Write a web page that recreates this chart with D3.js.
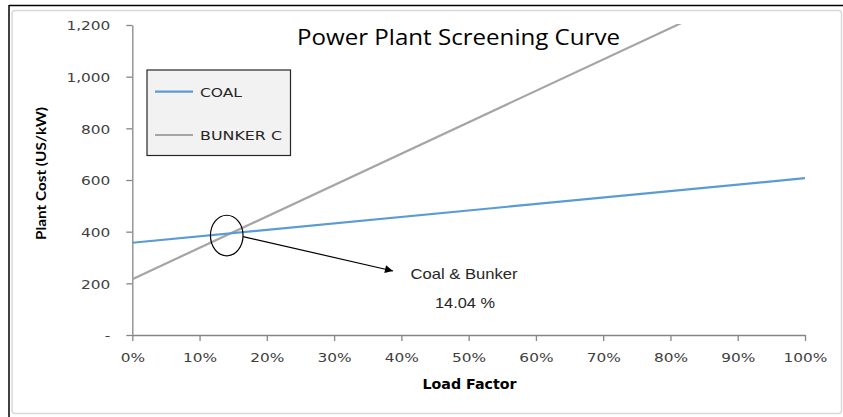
<!DOCTYPE html>
<html><head><meta charset="utf-8">
<script src="https://cdn.jsdelivr.net/npm/d3@7"></script>
<style>body{margin:0;background:#fff}svg{display:block}</style>
</head><body>
<svg id="c" width="843" height="417"></svg>
<script>
// Data
const loadFactor = [0, 1];
const coalCost = [357, 607];
const bunkerCost = [216, 1431];
const yTicks = [0, 200, 400, 600, 800, 1000, 1200];
const xTicks = [0, 0.1, 0.2, 0.3, 0.4, 0.5, 0.6, 0.7, 0.8, 0.9, 1.0];
const seriesNames = ["COAL", "BUNKER C"];
const chartTitle = "Power Plant Screening Curve";
const annotation = ["Coal & Bunker", "14.04 %"];
const crossover = {x: 0.1404, y: 385};

const svg = d3.select("#c");
const x = d3.scaleLinear().domain([0, 1]).range([132.3, 805]);
const y = d3.scaleLinear().domain([0, 1200]).range([335, 25]);

// frame
svg.append("rect").attr("x", 12).attr("y", 10.5).attr("width", 829.5).attr("height", 403).attr("rx", 3)
  .attr("fill", "none").attr("stroke", "#d9d9d9").attr("stroke-width", 1.5);
svg.append("line").attr("x1", 9).attr("x2", 843).attr("y1", 5.5).attr("y2", 5.5).attr("stroke", "#000").attr("stroke-width", 1.5);
svg.append("line").attr("x1", 9).attr("x2", 9).attr("y1", 5).attr("y2", 417).attr("stroke", "#000").attr("stroke-width", 1.5);

svg.append("defs").append("clipPath").attr("id", "plot").append("rect")
  .attr("x", 130).attr("y", 24).attr("width", 680).attr("height", 313);

// axes
const yAxis = svg.append("g").attr("transform", `translate(${x(0)},0)`)
  .call(d3.axisLeft(y).tickValues(yTicks).tickSize(6).tickSizeOuter(0).tickPadding(16)
    .tickFormat(d => d === 0 ? "-" : d3.format(",")(d)));
const xAxis = svg.append("g").attr("transform", `translate(0,${y(0)})`)
  .call(d3.axisBottom(x).tickValues(xTicks).tickSize(6).tickSizeOuter(0).tickFormat(d3.format(".0%")));
[yAxis, xAxis].forEach(g => {
  g.select(".domain").attr("stroke", "#868686").attr("stroke-width", 1.3);
  g.selectAll(".tick line").attr("stroke", "#868686").attr("stroke-width", 1.3);
  g.selectAll("text").attr("font-family", "DejaVu Sans").attr("font-size", 13)
    .attr("fill", "#404040");
  g.selectAll("text").each(function() {
    const w = this.getComputedTextLength();
    d3.select(this).attr("textLength", w * 1.18).attr("lengthAdjust", "spacingAndGlyphs");
  });
});
yAxis.selectAll("text").attr("dy", "0.36em");
xAxis.selectAll("text").attr("y", 18);

// lines
const line = d3.line().x(d => x(d[0])).y(d => y(d[1]));
const g = svg.append("g").attr("clip-path", "url(#plot)");
g.append("path").datum(loadFactor.map((v, i) => [v, bunkerCost[i]])).attr("d", line)
  .attr("fill", "none").attr("stroke", "#a5a5a5").attr("stroke-width", 2.2);
g.append("path").datum(loadFactor.map((v, i) => [v, coalCost[i]])).attr("d", line)
  .attr("fill", "none").attr("stroke", "#5b9bd5").attr("stroke-width", 2.2);

// title
svg.append("text").attr("x", 297).attr("y", 45).attr("font-family", "Open Sans").attr("font-size", 21)
  .attr("textLength", 323).attr("lengthAdjust", "spacingAndGlyphs").attr("fill", "#000").text(chartTitle);

// axis titles
svg.append("text").attr("transform", "translate(46,240) rotate(-90)").attr("font-family", "Lato")
  .attr("font-weight", "bold").attr("font-size", 14).attr("textLength", 133)
  .attr("lengthAdjust", "spacingAndGlyphs").attr("fill", "#000").text("Plant Cost (US/kW)");
svg.append("text").attr("x", 422.5).attr("y", 389).attr("font-family", "DejaVu Sans")
  .attr("font-weight", "bold").attr("font-size", 13.5).attr("textLength", 94)
  .attr("lengthAdjust", "spacingAndGlyphs").attr("fill", "#000").text("Load Factor");

// legend
svg.append("rect").attr("x", 147).attr("y", 70).attr("width", 143.5).attr("height", 85.5)
  .attr("fill", "#f2f2f2").attr("stroke", "#262626").attr("stroke-width", 1.2);
const legY = [91.7, 135];
const legColors = ["#5b9bd5", "#a5a5a5"];
const legW = [42, 82];
seriesNames.forEach((n, i) => {
  svg.append("line").attr("x1", 155).attr("x2", 193).attr("y1", legY[i]).attr("y2", legY[i])
    .attr("stroke", legColors[i]).attr("stroke-width", 2.2);
  svg.append("text").attr("x", 200).attr("y", legY[i] + 5).attr("font-family", "DejaVu Sans")
    .attr("font-size", 13).attr("textLength", legW[i]).attr("lengthAdjust", "spacingAndGlyphs")
    .attr("fill", "#262626").text(n);
});

// annotation
svg.append("defs").append("marker").attr("id", "arr").attr("viewBox", "0 0 10 10")
  .attr("refX", 10).attr("refY", 5).attr("markerWidth", 10).attr("markerHeight", 8)
  .attr("markerUnits", "userSpaceOnUse").attr("orient", "auto")
  .append("path").attr("d", "M0,0L10,5L0,10Z").attr("fill", "#000");
svg.append("ellipse").attr("cx", x(crossover.x)).attr("cy", y(crossover.y)).attr("rx", 16.3).attr("ry", 20.3)
  .attr("fill", "none").attr("stroke", "#000").attr("stroke-width", 1.2);
svg.append("line").attr("x1", x(crossover.x) + 16.3).attr("y1", y(crossover.y) + 1)
  .attr("x2", 393).attr("y2", 271).attr("stroke", "#000").attr("stroke-width", 1.2)
  .attr("marker-end", "url(#arr)");
svg.append("text").attr("x", 410.5).attr("y", 279.3).attr("font-family", "Liberation Sans")
  .attr("font-size", 15).attr("textLength", 107).attr("lengthAdjust", "spacingAndGlyphs")
  .attr("fill", "#262626").text(annotation[0]);
svg.append("text").attr("x", 435).attr("y", 308.3).attr("font-family", "Liberation Sans")
  .attr("font-size", 15).attr("textLength", 60).attr("lengthAdjust", "spacingAndGlyphs")
  .attr("fill", "#262626").text(annotation[1]);
</script>
</body></html>
